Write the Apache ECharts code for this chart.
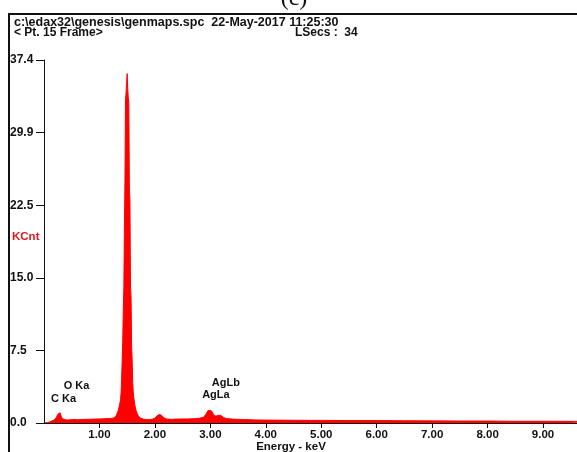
<!DOCTYPE html>
<html>
<head>
<meta charset="utf-8">
<script src="https://cdn.jsdelivr.net/npm/echarts@6/dist/echarts.min.js"></script>
<style>
  html, body { margin: 0; padding: 0; background: #fff; }
  #chart { width: 577px; height: 452px; }
</style>
</head>
<body>
<div id="chart"></div>
<script>
// EDS spectrum: [energy keV, KCnt]
const lowRange = [[0.00,0],[0.06,0.05],[0.10,0.1],[0.14,0.2],[0.18,0.3],[0.22,0.55],[0.25,0.9],[0.27,1.1],[0.29,1.05],[0.31,0.7],[0.33,0.45],[0.36,0.36],[0.40,0.32],[0.45,0.32],[0.50,0.35],[0.53,0.4],[0.56,0.36],[0.60,0.34],[0.70,0.36],[0.80,0.38],[0.90,0.4],[1.00,0.42],[1.10,0.44],[1.20,0.47],[1.26,0.52]];
const alKaRange = [[1.28,0.6],[1.30,0.75],[1.32,1.0],[1.34,1.3],[1.36,1.8],[1.38,2.4],[1.39,3.1],[1.40,4.5],[1.41,6.5],[1.42,8.5],[1.43,11.5],[1.44,14],[1.45,20],[1.46,25],[1.47,33.3],[1.48,34],[1.49,35],[1.50,36.0],[1.51,34.5],[1.52,33.5],[1.53,33],[1.54,24],[1.55,23],[1.56,14],[1.57,13],[1.58,8],[1.59,6.5],[1.60,4.2],[1.61,3.1],[1.62,2.6],[1.64,1.8],[1.66,1.3],[1.68,1.0],[1.70,0.75],[1.74,0.5],[1.80,0.38]];
const midRange = [[1.85,0.35],[1.90,0.35],[1.95,0.38],[2.00,0.5],[2.04,0.75],[2.08,0.88],[2.12,0.8],[2.16,0.55],[2.20,0.42],[2.30,0.38],[2.40,0.4],[2.50,0.42],[2.60,0.42],[2.70,0.45],[2.80,0.48]];
const agRange = [[2.88,0.6],[2.92,0.9],[2.96,1.3],[2.99,1.42],[3.02,1.25],[3.06,0.85],[3.10,0.7],[3.15,0.8],[3.19,0.78],[3.24,0.55],[3.30,0.45],[3.40,0.4]];
const tailRange = [[3.60,0.36],[3.80,0.32],[4.00,0.3],[4.50,0.28],[5.00,0.27],[5.50,0.25],[6.00,0.25],[6.50,0.23],[7.00,0.22],[7.50,0.2],[8.00,0.2],[8.50,0.18],[9.00,0.18],[9.50,0.17],[10.00,0.15]];

// Vertical scale ticks (full scale 37.4 KCnt in five steps)
const yTickLabels = ['0.0', '7.5', '15.0', '22.5', '29.9', '37.4'];
const yFullScale = 37.4;

// Line identification labels, anchored at [keV, KCnt]
const peakLabels = [
  { name: 'AlKa', at: [1.54, 37.6] },
  { name: 'O Ka', at: [0.586, 3.81] },
  { name: 'C Ka', at: [0.352, 2.47] },
  { name: 'AgLb', at: [3.28, 4.15] },
  { name: 'AgLa', at: [3.10, 2.88] }
];

const headerLine1 = 'c:\\edax32\\genesis\\genmaps.spc  22-May-2017 11:25:30';
const headerLine2 = '< Pt. 15 Frame>';
const liveSecs = 'LSecs :  34';

const spectrum = [].concat(lowRange, alKaRange, midRange, agRange, tailRange);
const FONT = '"Liberation Sans", Arial, sans-serif';
const INK = '#111';

const chart = echarts.init(document.getElementById('chart'), null, { renderer: 'canvas' });
const yStep = yFullScale / 5;

chart.setOption({
  animation: false,
  backgroundColor: '#fff',
  // the energy axis runs on past the right edge of the page (10 keV at ~598px)
  grid: { left: 44, top: 60, bottom: 29, width: 554.5, containLabel: false, outerBoundsMode: 'none' },
  xAxis: {
    type: 'value', min: 0, max: 10, interval: 1, z: 3,
    axisLine: { show: true, lineStyle: { color: INK, width: 1 } },
    axisTick: { show: true, length: 5, lineStyle: { color: INK } },
    splitLine: { show: false },
    axisLabel: {
      margin: 6, color: INK, fontFamily: FONT, fontSize: 11.5, fontWeight: 'bold',
      showMinLabel: false, showMaxLabel: false,
      formatter: v => v.toFixed(2)
    }
  },
  yAxis: {
    type: 'value', min: 0, max: yFullScale, interval: yStep, z: 3,
    axisLine: { show: true, lineStyle: { color: INK, width: 1 } },
    axisTick: { show: true, length: 8, lineStyle: { color: INK } },
    splitLine: { show: false },
    axisLabel: {
      margin: 34, align: 'left', color: INK, fontFamily: FONT, fontSize: 12, fontWeight: 'bold',
      formatter: v => yTickLabels[Math.round(v / yStep)] || ''
    }
  },
  series: [
    {
      type: 'line', data: spectrum, showSymbol: false, smooth: false,
      lineStyle: { color: '#ff0000', width: 1 },
      areaStyle: { color: '#ff0000', opacity: 1 },
      z: 2
    },
    {
      type: 'scatter', symbolSize: 1, itemStyle: { color: 'rgba(0,0,0,0)' },
      data: peakLabels.map(p => ({ name: p.name, value: p.at })),
      label: {
        show: true, position: 'inside', formatter: '{b}', color: INK, opacity: 1,
        textBorderWidth: 0, textBorderColor: 'transparent',
        fontFamily: FONT, fontSize: 11, fontWeight: 'bold'
      },
      z: 4
    }
  ],
  graphic: [
    { type: 'text', x: 294, y: 11,
      style: { text: '(c)', font: '24px "Liberation Serif", "Times New Roman", serif', fill: INK,
               align: 'center', verticalAlign: 'bottom' } },
    { type: 'line', shape: { x1: 9, y1: 14, x2: 577, y2: 14 }, style: { stroke: INK, lineWidth: 2 } },
    { type: 'line', shape: { x1: 9, y1: 13, x2: 9, y2: 452 }, style: { stroke: INK, lineWidth: 2 } },
    { type: 'text', x: 14, y: 22.5,
      style: { text: headerLine1, font: 'bold 12.5px ' + FONT, fill: INK, verticalAlign: 'middle' } },
    { type: 'text', x: 14, y: 33,
      style: { text: headerLine2, font: 'bold 12px ' + FONT, fill: INK, verticalAlign: 'middle' } },
    { type: 'text', x: 295, y: 33,
      style: { text: liveSecs, font: 'bold 12px ' + FONT, fill: INK, verticalAlign: 'middle' } },
    { type: 'text', x: 12, y: 237,
      style: { text: 'KCnt', font: 'bold 11.5px ' + FONT, fill: '#e8141c', verticalAlign: 'middle' } },
    { type: 'text', x: 291, y: 447,
      style: { text: 'Energy - keV', font: 'bold 11.5px ' + FONT, fill: INK, align: 'center', verticalAlign: 'middle' } }
  ]
});
</script>
</body>
</html>
